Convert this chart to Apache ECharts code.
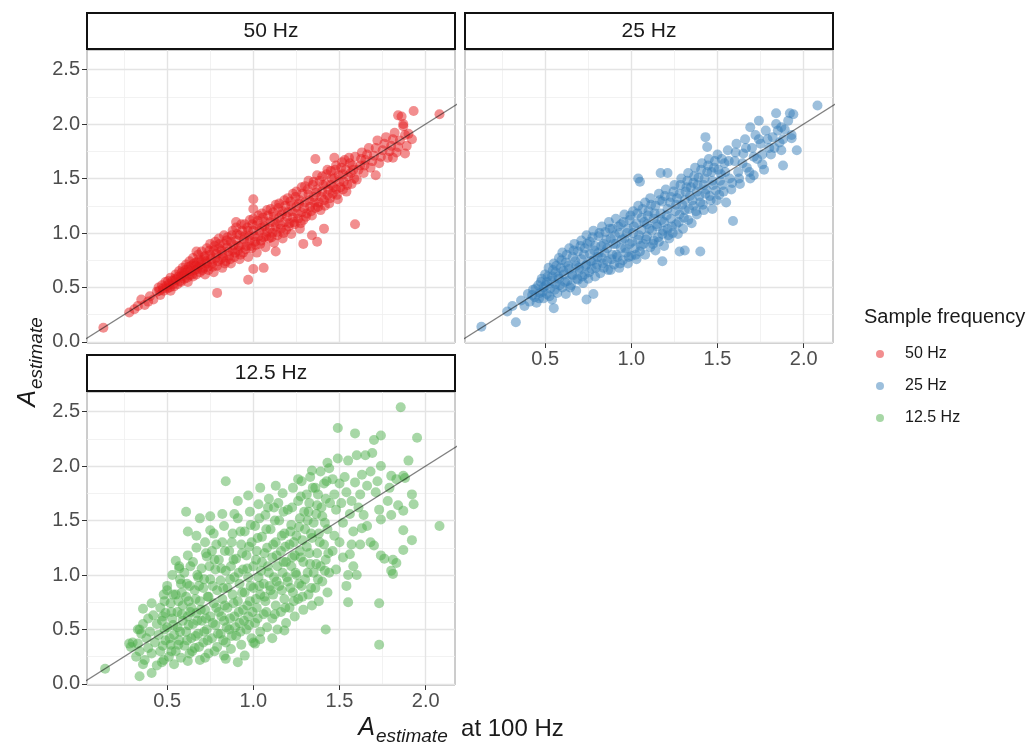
<!DOCTYPE html>
<html><head><meta charset="utf-8">
<script src="https://cdn.jsdelivr.net/npm/echarts@6/dist/echarts.min.js"></script>
<style>html,body{margin:0;padding:0;background:#fff}#c{width:1032px;height:747px}</style>
</head><body><div id="c"></div>
<script>
const panels = ['50 Hz', '25 Hz', '12.5 Hz'];
const colors = ['rgba(228,26,28,0.62)', 'rgba(55,126,184,0.62)', 'rgba(77,175,74,0.62)'];
const xTicks = [0.5, 1.0, 1.5, 2.0];
const yTicks = [0.0, 0.5, 1.0, 1.5, 2.0, 2.5];
const xMinor = [0.25, 0.75, 1.25, 1.75];
const yMinor = [0.25, 0.75, 1.25, 1.75, 2.25];
const identity = [[0, 0], [2.3, 2.3]];

const pts50 = [
[0.13,0.13],[0.28,0.27],[0.31,0.30],[0.33,0.33],[0.35,0.39],[0.37,0.34],[0.39,0.37],[0.40,0.42],[0.42,0.39],
[0.44,0.46],[0.45,0.50],[0.46,0.43],[0.47,0.52],[0.48,0.47],
[0.49,0.55],[0.50,0.49],[0.51,0.53],[0.52,0.59],[0.52,0.47],[0.53,0.56],
[0.54,0.51],[0.55,0.62],[0.55,0.57],[0.56,0.53],[0.57,0.65],[0.58,0.60],[0.58,0.55],
[0.59,0.68],[0.60,0.58],[0.60,0.63],[0.61,0.71],[0.62,0.55],[0.62,0.66],[0.63,0.61],[0.63,0.74],
[0.64,0.70],[0.65,0.60],[0.65,0.77],[0.66,0.66],[0.67,0.73],[0.67,0.62],[0.68,0.69],[0.68,0.80],
[0.69,0.64],[0.70,0.75],[0.70,0.83],[0.71,0.68],[0.72,0.79],[0.72,0.62],[0.73,0.72],[0.73,0.86],
[0.74,0.66],[0.75,0.80],[0.75,0.90],[0.76,0.72],[0.77,0.84],[0.77,0.64],[0.78,0.77],[0.78,0.92],
[0.79,0.70],[0.80,0.86],[0.80,0.95],[0.81,0.76],[0.82,0.81],[0.82,0.68],[0.83,0.90],[0.83,0.98],
[0.84,0.74],[0.85,0.87],[0.85,0.96],[0.86,0.79],[0.87,0.92],[0.87,0.72],[0.88,0.84],[0.88,1.02],
[0.89,0.78],[0.90,0.93],[0.90,1.05],[0.91,0.84],[0.92,0.98],[0.92,0.76],[0.93,0.89],[0.93,1.08],
[0.94,0.82],[0.95,0.97],[0.95,1.08],[0.96,0.88],[0.97,1.02],[0.97,0.78],[0.98,0.93],[0.98,1.12],
[0.99,0.86],[1.00,1.02],[1.00,1.13],[1.01,0.92],[1.02,1.07],[1.02,0.82],[1.03,0.97],[1.03,1.16],
[1.04,0.90],[1.05,1.05],[1.05,1.18],[1.06,0.96],[1.07,1.10],[1.07,0.87],[1.08,1.01],[1.08,1.21],
[1.09,0.95],[1.10,1.10],[1.10,1.22],[1.11,1.00],[1.12,1.15],[1.12,0.91],[1.13,1.06],[1.13,1.26],
[1.14,0.98],[1.15,1.14],[1.15,1.27],[1.16,1.04],[1.17,1.20],[1.17,0.95],[1.18,1.10],[1.18,1.30],
[1.19,1.03],[1.20,1.19],[1.20,1.32],[1.21,1.09],[1.22,1.25],[1.22,0.99],[1.23,1.14],[1.23,1.36],
[1.24,1.08],[1.25,1.24],[1.25,1.38],[1.26,1.13],[1.27,1.30],[1.27,1.04],[1.28,1.19],[1.28,1.42],
[1.29,1.12],[1.30,1.28],[1.30,1.43],[1.31,1.18],[1.32,1.35],[1.32,1.48],[1.33,1.24],
[1.34,1.16],[1.35,1.33],[1.35,1.47],[1.36,1.23],[1.37,1.40],[1.37,1.53],[1.38,1.28],
[1.39,1.21],[1.40,1.38],[1.40,1.52],[1.41,1.30],[1.42,1.45],[1.43,1.35],[1.43,1.58],
[1.44,1.27],[1.45,1.44],[1.45,1.57],[1.46,1.36],[1.47,1.50],[1.48,1.40],[1.48,1.62],
[1.49,1.31],[1.50,1.47],[1.51,1.60],[1.52,1.40],[1.52,1.54],[1.53,1.67],
[1.54,1.38],[1.55,1.52],[1.56,1.64],[1.57,1.45],[1.58,1.58],
[1.59,1.70],[1.60,1.49],[1.62,1.62],[1.63,1.74],[1.64,1.55],[1.65,1.67],
[1.67,1.78],[1.68,1.60],[1.70,1.71],[1.72,1.85],[1.73,1.64],[1.75,1.76],
[1.77,1.88],[1.78,1.69],[1.80,1.80],[1.82,1.92],[1.83,1.74],[1.85,1.85],
[1.87,1.98],[1.89,1.80],[1.90,1.91],[1.92,1.86],
[0.67,0.83],[0.79,0.45],[0.97,0.57],[1.00,0.67],[1.06,0.68],[1.13,0.83],[0.90,1.10],[1.00,1.31],[1.00,1.22],
[1.29,0.90],[1.34,0.98],[1.37,0.92],[1.41,1.04],[1.59,1.08],[1.36,1.68],[1.47,1.69],[1.81,1.69],[1.88,1.73],
[1.71,1.53],[1.84,2.08],[1.86,2.07],[1.87,2.00],[1.93,2.12],[2.08,2.09],
[0.455,0.47],[0.475,0.49],[0.495,0.51],[0.505,0.56],[0.515,0.50],[0.535,0.53],[0.545,0.58],[0.565,0.60],[0.575,0.56],
[0.585,0.64],[0.595,0.61],[0.605,0.66],[0.615,0.59],[0.625,0.69],[0.635,0.65],[0.645,0.62],[0.655,0.72],[0.665,0.70],
[0.675,0.67],[0.685,0.75],[0.695,0.71],[0.705,0.66],[0.715,0.78],[0.725,0.74],[0.735,0.69],[0.745,0.84],[0.755,0.76],
[0.765,0.69],[0.775,0.88],[0.785,0.81],[0.795,0.74],[0.805,0.90],[0.815,0.84],[0.825,0.77],[0.835,0.72],[0.845,0.93],
[0.855,0.83],[0.865,0.76],[0.875,0.98],[0.885,0.89],[0.895,0.82],[0.905,0.99],[0.915,0.88],[0.925,0.80],[0.935,1.02],
[0.945,0.94],[0.955,0.85],[0.965,1.05],[0.975,0.97],[0.985,0.88],[0.995,1.08],[1.005,0.97],[1.015,0.89],[1.025,1.11],
[1.035,1.02],[1.045,0.93],[1.055,1.14],[1.065,1.06],[1.075,0.97],[1.085,1.16],[1.095,1.04],[1.105,0.96],[1.115,1.19],
[1.125,1.10],[1.135,1.01],[1.145,1.23],[1.155,1.08],[1.165,1.17],[1.175,1.00],[1.185,1.25],[1.195,1.15],[1.205,1.06],
[1.215,1.29],[1.225,1.20],[1.235,1.10],[1.245,1.33],[1.255,1.18],[1.265,1.27],[1.275,1.09],[1.285,1.36],[1.295,1.23],
[1.305,1.15],[1.315,1.40],[1.325,1.30],[1.335,1.20],[1.345,1.44],[1.355,1.28],[1.365,1.37],[1.375,1.24],[1.385,1.48],
[1.395,1.33],[1.405,1.44],[1.415,1.25],[1.425,1.54],[1.435,1.40],[1.445,1.32],[1.455,1.50],[1.465,1.42],[1.475,1.58],
[1.485,1.35],[1.495,1.53],[1.505,1.42],[1.515,1.65],[1.525,1.47],[1.535,1.58],[1.545,1.44],[1.555,1.69],[1.565,1.55],
[1.575,1.62],[1.585,1.50],[1.61,1.58],[1.625,1.68],[1.645,1.62],[1.66,1.72],[1.69,1.66],[1.71,1.78],[1.74,1.70],
[1.76,1.82],[1.79,1.75],[1.81,1.86],[1.84,1.79],[1.88,1.90]
];

const pts25 = [
[0.13,0.14],[0.28,0.28],[0.31,0.33],[0.33,0.18],[0.55,0.31],[0.74,0.39],[0.78,0.44],
[0.36,0.38],[0.38,0.33],[0.40,0.44],[0.41,0.37],[0.43,0.48],[0.44,0.41],
[0.45,0.36],[0.46,0.52],[0.47,0.45],[0.48,0.58],[0.49,0.40],[0.49,0.50],
[0.50,0.62],[0.51,0.44],[0.51,0.55],[0.52,0.68],[0.53,0.49],[0.54,0.60],[0.54,0.39],
[0.55,0.72],[0.56,0.53],[0.56,0.64],[0.57,0.45],[0.58,0.77],[0.58,0.58],[0.59,0.68],
[0.60,0.50],[0.60,0.82],[0.61,0.62],[0.62,0.73],[0.62,0.44],[0.63,0.56],[0.64,0.86],[0.64,0.67],
[0.65,0.52],[0.66,0.78],[0.66,0.61],[0.67,0.90],[0.68,0.70],[0.68,0.47],[0.69,0.83],[0.69,0.57],
[0.70,0.66],[0.71,0.93],[0.71,0.76],[0.72,0.54],[0.73,0.86],[0.73,0.62],[0.74,0.98],[0.74,0.71],
[0.75,0.58],[0.76,0.81],[0.76,0.92],[0.77,0.67],[0.78,1.02],[0.78,0.75],[0.79,0.60],[0.79,0.88],
[0.80,0.71],[0.81,0.97],[0.81,0.82],[0.82,0.63],[0.83,1.06],[0.83,0.77],[0.84,0.90],[0.84,0.68],
[0.85,1.01],[0.86,0.74],[0.86,0.86],[0.87,1.10],[0.88,0.66],[0.88,0.95],[0.89,0.80],[0.89,1.04],
[0.90,0.71],[0.91,0.90],[0.91,1.13],[0.92,0.78],[0.93,1.00],[0.93,0.68],[0.94,1.08],[0.94,0.86],
[0.95,0.75],[0.96,1.17],[0.96,0.95],[0.97,0.82],[0.98,1.04],[0.98,0.72],[0.99,1.12],[0.99,0.90],
[1.00,0.79],[1.01,1.20],[1.01,1.00],[1.02,0.86],[1.03,1.09],[1.03,0.76],[1.04,1.25],[1.04,0.94],
[1.05,0.83],[1.06,1.14],[1.06,1.03],[1.07,0.90],[1.08,1.28],[1.08,0.80],[1.09,1.08],[1.09,0.97],
[1.10,1.20],[1.11,0.87],[1.11,1.32],[1.12,1.02],[1.13,0.93],[1.13,1.13],[1.14,0.84],[1.14,1.25],
[1.15,1.06],[1.16,1.36],[1.16,0.92],[1.17,1.18],[1.18,0.99],[1.18,1.29],[1.19,1.10],[1.19,0.88],
[1.20,1.40],[1.21,1.04],[1.21,1.22],[1.22,0.95],[1.23,1.33],[1.23,1.13],[1.24,1.00],
[1.25,1.44],[1.26,1.26],[1.26,1.08],[1.27,0.99],[1.28,1.36],[1.28,1.17],[1.29,1.50],
[1.30,1.04],[1.31,1.30],[1.31,1.21],[1.32,1.42],[1.33,1.12],[1.33,1.55],[1.34,1.34],
[1.35,1.09],[1.36,1.46],[1.36,1.25],[1.37,1.60],[1.38,1.17],[1.38,1.38],[1.39,1.51],
[1.40,1.28],[1.41,1.64],[1.42,1.21],[1.42,1.44],[1.43,1.36],[1.44,1.56],
[1.45,1.68],[1.46,1.30],[1.47,1.48],[1.47,1.22],[1.48,1.60],[1.49,1.39],
[1.50,1.72],[1.51,1.35],[1.52,1.54],[1.53,1.44],[1.54,1.64],[1.55,1.28],
[1.56,1.76],[1.57,1.50],[1.58,1.40],[1.60,1.66],[1.61,1.82],[1.62,1.56],
[1.63,1.45],[1.65,1.73],[1.66,1.86],[1.67,1.60],[1.69,1.50],[1.70,1.78],
[1.72,1.90],[1.73,1.68],[1.75,1.82],[1.77,1.58],[1.78,1.94],[1.80,1.78],
[1.82,1.88],[1.84,2.00],[1.86,1.83],[1.89,1.95],[1.91,2.03],[1.93,1.90],
[1.05,1.47],[1.04,1.50],[1.17,1.55],[1.21,1.55],[1.18,0.74],[1.28,0.83],[1.31,0.84],[1.40,0.83],[1.59,1.11],
[1.43,1.88],[1.44,1.79],[2.08,2.17],[1.94,2.09],[1.92,2.10],[1.84,2.10],[1.88,1.62],[1.96,1.76],[1.87,1.76],
[1.81,1.72],[1.71,1.53],[1.76,1.63],[1.69,1.97],[1.74,2.03],[1.87,1.97],[1.93,1.87],
[0.425,0.43],[0.445,0.49],[0.465,0.40],[0.475,0.55],[0.485,0.46],[0.505,0.52],[0.515,0.60],[0.525,0.42],[0.535,0.56],
[0.545,0.66],[0.555,0.48],[0.565,0.70],[0.575,0.60],[0.585,0.52],[0.595,0.75],[0.605,0.65],[0.615,0.55],[0.625,0.80],
[0.635,0.70],[0.645,0.50],[0.655,0.62],[0.665,0.84],[0.675,0.74],[0.685,0.58],[0.695,0.68],[0.705,0.88],[0.715,0.60],
[0.725,0.80],[0.735,0.70],[0.745,0.90],[0.755,0.64],[0.765,0.74],[0.775,0.96],[0.785,0.84],[0.795,0.68],[0.805,0.78],
[0.815,1.00],[0.825,0.88],[0.835,0.72],[0.845,0.82],[0.855,0.94],[0.865,0.66],[0.875,1.04],[0.885,0.76],[0.895,0.90],
[0.905,0.98],[0.915,0.80],[0.925,1.06],[0.935,0.72],[0.945,0.94],[0.955,1.10],[0.965,0.86],[0.975,1.00],[0.985,0.78],
[0.995,1.16],[1.005,0.92],[1.015,1.06],[1.025,0.80],[1.035,1.18],[1.045,0.98],[1.055,0.88],[1.065,1.22],[1.075,1.10],
[1.085,0.94],[1.095,1.16],[1.105,1.04],[1.115,1.26],[1.125,0.90],[1.135,1.18],[1.145,1.08],[1.155,0.96],[1.165,1.30],
[1.175,1.12],[1.185,1.02],[1.195,1.34],[1.205,1.16],[1.215,0.98],[1.225,1.28],[1.235,1.06],[1.245,1.38],[1.255,1.20],
[1.265,1.32],[1.275,1.10],[1.285,1.44],[1.295,1.26],[1.305,1.14],[1.315,1.38],[1.325,1.48],[1.335,1.22],[1.345,1.42],
[1.355,1.30],[1.365,1.52],[1.375,1.20],[1.385,1.44],[1.395,1.34],[1.405,1.58],[1.415,1.26],[1.425,1.50],[1.435,1.40],
[1.445,1.62],[1.455,1.34],[1.465,1.56],[1.475,1.44],[1.485,1.66],[1.495,1.30],[1.505,1.58],[1.515,1.48],[1.525,1.68],
[1.535,1.38],[1.545,1.56],[1.565,1.66],[1.585,1.46],[1.605,1.74],[1.625,1.50],[1.645,1.64],[1.665,1.78],[1.685,1.56],
[1.71,1.70],[1.74,1.86],[1.76,1.72],[1.79,1.86],[1.83,1.78],[1.85,1.94],[1.88,1.86]
];

const pts125 = [
[0.14,0.14],[0.28,0.37],[0.29,0.34],[0.33,0.37],[0.34,0.50],[0.34,0.07],[0.36,0.18],[0.41,0.10],[0.35,0.46],
[0.36,0.69],[0.41,0.74],[0.47,0.20],
[0.30,0.38],[0.32,0.25],[0.33,0.50],[0.34,0.30],
[0.36,0.55],[0.37,0.22],[0.38,0.42],[0.39,0.60],[0.39,0.33],
[0.40,0.48],[0.41,0.28],[0.42,0.63],[0.43,0.38],[0.44,0.55],[0.44,0.17],
[0.45,0.45],[0.46,0.70],[0.46,0.30],[0.47,0.58],[0.48,0.22],[0.48,0.82],[0.49,0.40],[0.49,0.65],
[0.50,0.52],[0.50,0.90],[0.51,0.25],[0.52,0.74],[0.52,0.36],[0.53,0.60],[0.53,1.00],[0.54,0.45],[0.54,0.18],
[0.55,0.82],[0.55,0.30],[0.56,0.66],[0.56,0.52],[0.57,1.08],[0.57,0.40],[0.58,0.92],[0.58,0.24],[0.59,0.72],[0.59,0.58],
[0.60,0.35],[0.60,1.02],[0.61,0.48],[0.61,0.80],[0.62,0.62],[0.62,1.18],[0.63,0.28],[0.63,0.90],[0.64,0.42],[0.64,0.70],
[0.65,1.12],[0.65,0.55],[0.66,0.33],[0.66,0.86],[0.67,0.65],[0.67,1.25],[0.68,0.46],[0.68,0.98],[0.69,0.22],[0.69,0.76],
[0.70,0.58],[0.70,1.06],[0.71,0.38],[0.71,0.88],[0.72,1.30],[0.72,0.68],[0.73,0.50],[0.73,1.17],[0.74,0.28],[0.74,0.80],
[0.75,0.96],[0.75,0.62],[0.76,0.42],[0.76,1.22],[0.77,0.74],[0.77,1.38],[0.78,0.54],[0.78,1.05],[0.79,0.34],[0.79,0.86],
[0.80,0.66],[0.80,1.14],[0.81,0.46],[0.81,0.95],[0.82,1.30],[0.82,0.78],[0.83,0.58],[0.83,1.45],[0.84,0.38],[0.84,1.04],
[0.85,0.88],[0.85,0.70],[0.86,1.22],[0.86,0.50],[0.87,1.08],[0.87,0.32],[0.88,0.82],[0.88,1.38],[0.89,0.62],[0.89,0.98],
[0.90,1.15],[0.90,0.44],[0.91,0.76],[0.91,1.52],[0.92,0.92],[0.92,0.56],[0.93,1.28],[0.93,0.36],[0.94,1.05],[0.94,0.68],
[0.95,0.84],[0.95,1.40],[0.96,0.50],[0.96,1.18],[0.97,0.98],[0.97,0.62],[0.98,1.58],[0.98,0.76],[0.99,1.30],[0.99,0.42],
[1.00,1.08],[1.00,0.88],[1.01,0.56],[1.01,1.45],[1.02,0.70],[1.02,1.22],[1.03,0.98],[1.03,1.65],[1.04,0.48],[1.04,0.82],
[1.05,1.35],[1.05,1.12],[1.06,0.64],[1.06,0.92],[1.07,1.55],[1.07,0.76],[1.08,1.25],[1.08,0.52],[1.09,1.02],[1.09,1.70],
[1.10,0.86],[1.10,1.42],[1.11,0.60],[1.11,1.16],[1.12,0.98],[1.12,1.62],[1.13,0.72],[1.13,1.30],[1.14,0.50],[1.14,1.08],
[1.15,1.50],[1.15,0.90],[1.16,1.22],[1.16,0.66],[1.17,1.75],[1.17,1.02],[1.18,0.78],[1.18,1.38],[1.19,1.12],[1.19,0.56],
[1.20,1.60],[1.20,0.94],[1.21,1.28],[1.21,0.70],[1.22,1.46],[1.22,1.08],[1.23,0.84],[1.23,1.80],[1.24,1.18],[1.24,0.62],
[1.25,1.36],[1.25,1.00],[1.26,1.68],[1.26,0.78],[1.27,1.22],[1.27,1.52],[1.28,0.90],[1.28,1.86],[1.29,1.12],[1.29,0.68],
[1.30,1.42],[1.30,0.96],[1.31,1.74],[1.31,1.26],[1.32,0.82],[1.32,1.58],[1.33,1.10],[1.33,1.90],[1.34,0.72],[1.34,1.34],
[1.35,1.48],[1.35,1.02],[1.36,1.80],[1.36,0.88],[1.37,1.20],[1.37,1.64],[1.38,1.38],[1.38,0.76],[1.39,1.95],[1.39,1.08],
[1.40,1.54],[1.40,0.94],[1.41,1.28],[1.41,1.84],[1.42,1.14],[1.42,1.70],[1.43,0.84],[1.43,1.42],[1.44,1.98],[1.44,1.02],
[0.61,1.58],[0.69,1.52],[0.62,1.40],[0.84,1.86],[0.75,1.54],[0.82,1.56],[0.89,1.56],[0.91,1.68],[0.97,1.73],
[0.67,1.36],[0.75,1.41],[0.55,1.13],[0.57,1.06],[0.50,0.86],[1.04,1.80],[1.13,1.82],[1.26,1.88],[1.34,1.96],[1.43,2.03],
[0.62,0.21],[0.72,0.24],[0.83,0.26],[0.84,0.23],[0.91,0.20],[0.95,0.26],[1.00,0.38],[1.01,0.37],[1.04,0.41],[1.11,0.42],[1.18,0.49],
[1.49,2.35],[1.59,2.30],[1.70,2.24],[1.74,2.28],[1.855,2.54],[1.95,2.26],[1.90,2.05],[2.08,1.45],[1.60,2.10],
[1.65,2.10],[1.69,2.12],[1.55,2.05],[1.49,2.07],[1.74,2.00],[1.80,1.91],[1.87,1.91],[1.92,1.74],[1.93,1.65],
[1.84,1.64],[1.87,1.59],[1.73,1.60],[1.78,1.68],[1.71,1.76],[1.64,1.55],[1.74,1.51],[1.80,1.55],[1.87,1.41],
[1.92,1.32],[1.87,1.23],[1.81,1.14],[1.80,1.04],[1.74,1.18],[1.62,1.28],[1.68,1.30],[1.56,1.19],[1.58,1.08],
[1.55,1.00],[1.60,1.00],[1.48,1.05],[1.66,1.45],[1.63,1.43],[1.57,1.28],
[1.73,0.74],[1.73,0.36],[1.55,0.75],[1.42,0.50],[1.81,1.01],[1.83,1.11],[1.70,1.27],[1.76,1.15],[1.88,1.89],[1.83,1.88],
[1.46,1.88],[1.47,1.36],[1.47,1.74],[1.46,1.22],[1.48,1.60],[1.50,1.30],[1.50,1.84],[1.51,1.66],[1.52,1.16],
[1.52,1.48],[1.53,1.90],[1.54,1.76],[1.54,0.90],[1.56,1.56],[1.57,1.68],[1.58,1.40],[1.59,1.85],[1.61,1.62],
[1.62,1.74],[1.63,1.92],[1.66,1.82],[1.68,1.95],[1.72,1.86],[1.79,1.80],
[0.475,0.35],[0.475,0.62],[0.485,0.50],[0.485,0.76],
[0.515,0.42],[0.525,0.66],[0.525,0.30],[0.535,0.82],[0.535,0.54],
[0.565,0.36],[0.565,0.76],[0.575,0.48],[0.575,0.96],[0.585,0.64],[0.585,0.84],
[0.615,0.40],[0.615,0.92],[0.625,0.54],[0.625,0.76],[0.635,1.08],[0.635,0.66],[0.645,0.30],
[0.665,0.44],[0.665,0.78],[0.675,1.00],[0.675,0.58],[0.685,0.90],[0.685,0.34],[0.695,0.68],
[0.715,0.48],[0.715,0.96],[0.725,0.60],[0.725,1.20],[0.735,0.80],[0.735,0.40],[0.745,1.08],
[0.765,0.56],[0.765,0.90],[0.775,0.30],[0.775,1.14],[0.785,0.70],[0.785,1.28],[0.795,0.46],
[0.815,0.62],[0.815,1.06],[0.825,0.88],[0.825,0.40],[0.835,1.22],[0.835,0.72],[0.845,0.52],
[0.865,0.96],[0.865,0.60],[0.875,1.30],[0.875,0.44],[0.885,0.74],[0.885,1.14],[0.895,0.52],
[0.915,1.02],[0.915,0.66],[0.925,1.40],[0.925,0.48],[0.935,0.84],[0.935,1.20],[0.945,0.58],
[0.965,1.06],[0.965,0.72],[0.975,1.26],[0.975,0.54],[0.985,0.90],[0.985,1.46],[0.995,0.66],
[1.015,1.14],[1.015,0.78],[1.025,1.34],[1.025,0.60],[1.035,0.90],[1.035,1.52],[1.045,1.04],
[1.065,1.20],[1.065,0.80],[1.075,1.42],[1.075,0.66],[1.085,1.08],[1.085,1.62],[1.095,0.90],
[1.115,1.28],[1.115,0.82],[1.125,1.50],[1.125,0.64],[1.135,1.18],[1.135,0.94],[1.145,1.66],
[1.165,1.36],[1.165,0.86],[1.175,1.12],[1.175,1.58],[1.185,0.70],[1.185,1.26],[1.195,0.98],
[1.215,1.40],[1.215,0.88],[1.225,1.62],[1.225,1.16],[1.235,0.76],[1.235,1.30],[1.245,1.02],
[1.265,1.44],[1.265,0.92],[1.275,1.72],[1.275,1.16],[1.285,0.80],[1.285,1.32],[1.295,1.58],
[1.315,1.50],[1.315,1.02],[1.325,1.66],[1.325,1.20],[1.335,0.88],[1.335,1.38],[1.345,1.80],
[1.365,1.56],[1.365,1.10],[1.375,1.74],[1.375,0.96],[1.385,1.30],[1.395,1.62],
[1.415,1.48],[1.415,1.04],[1.425,1.86],[1.435,1.20],[1.445,1.66]
];

const seriesData = [pts50, pts25, pts125];

const FONT = '"Liberation Sans", Arial, sans-serif';
const X_RANGE = [0.035, 2.17];
const Y_RANGE = [-0.01, 2.68];
const gridBoxes = [
  {left: 87, top: 50, width: 368, height: 293},
  {left: 465, top: 50, width: 368, height: 293},
  {left: 87, top: 392, width: 368, height: 293}
];
const showX = [false, true, true];
const showY = [true, false, true];

const fmt = v => Number(v).toFixed(1);
const majorStyle = {color: '#e4e4e4', width: 1.4, type: 'solid'};
const minorStyle = {color: '#efefef', width: 0.8, type: 'solid'};

const grids = gridBoxes.map(g => Object.assign({show: true, borderColor: '#9a9a9a', borderWidth: 1, backgroundColor: '#ffffff', containLabel: false}, g));

const xAxes = gridBoxes.map((g, i) => ({
  type: 'value', gridIndex: i, min: X_RANGE[0], max: X_RANGE[1],
  splitLine: {show: false},
  axisLine: {show: false, onZero: false},
  axisTick: {show: showX[i], length: 5, customValues: xTicks, lineStyle: {color: '#333'}},
  axisLabel: {show: showX[i], customValues: xTicks, formatter: fmt, fontSize: 20, color: '#4d4d4d', margin: 6, fontFamily: FONT}
}));
const yAxes = gridBoxes.map((g, i) => ({
  type: 'value', gridIndex: i, min: Y_RANGE[0], max: Y_RANGE[1],
  splitLine: {show: false},
  axisLine: {show: false, onZero: false},
  axisTick: {show: showY[i], length: 5, customValues: yTicks, lineStyle: {color: '#333'}},
  axisLabel: {show: showY[i], customValues: yTicks, formatter: fmt, fontSize: 20, color: '#4d4d4d', margin: 7, fontFamily: FONT}
}));

const series = [];
gridBoxes.forEach((g, i) => {
  const lines = [];
  xMinor.forEach(v => lines.push({xAxis: v, lineStyle: minorStyle}));
  yMinor.forEach(v => lines.push({yAxis: v, lineStyle: minorStyle}));
  xTicks.forEach(v => lines.push({xAxis: v, lineStyle: majorStyle}));
  yTicks.forEach(v => lines.push({yAxis: v, lineStyle: majorStyle}));
  series.push({
    type: 'line', xAxisIndex: i, yAxisIndex: i, data: identity, z: 1, zlevel: 0, silent: true,
    symbol: 'none', lineStyle: {opacity: 0}, legendHoverLink: false,
    markLine: {z: 1, zlevel: 0, silent: true, symbol: 'none', animation: false, label: {show: false}, data: lines}
  });
  series.push({
    name: panels[i], type: 'scatter', xAxisIndex: i, yAxisIndex: i, data: seriesData[i],
    symbolSize: 10, z: 3, zlevel: 1, itemStyle: {color: colors[i]}
  });
  series.push({
    type: 'line', xAxisIndex: i, yAxisIndex: i, data: identity, z: 4, zlevel: 1, silent: true,
    symbol: 'none', clip: true, lineStyle: {color: 'rgba(0,0,0,0.5)', width: 1.4}
  });
});

const graphics = [];
gridBoxes.forEach((g, i) => {
  graphics.push({type: 'rect', z: 10, shape: {x: g.left, y: g.top - 37, width: g.width, height: 36},
    style: {fill: '#ffffff', stroke: '#111', lineWidth: 2}});
  graphics.push({type: 'text', z: 11, x: g.left + g.width / 2, y: g.top - 19,
    style: {text: panels[i], align: 'center', verticalAlign: 'middle', fill: '#1a1a1a', font: '21px ' + FONT}});
});
graphics.push({type: 'text', z: 11, x: 30, y: 362, rotation: Math.PI / 2,
  style: {text: '{a|A}{b|estimate}', align: 'center', verticalAlign: 'middle',
    rich: {a: {fontSize: 25, fontStyle: 'italic', fontFamily: FONT, fill: '#1a1a1a', lineHeight: 28, verticalAlign: 'top'},
           b: {fontSize: 19, fontStyle: 'italic', fontFamily: FONT, fill: '#1a1a1a', lineHeight: 20, padding: [11, 0, 0, 1], verticalAlign: 'top'}}}});
graphics.push({type: 'text', z: 11, x: 461, y: 730,
  style: {text: '{a|A}{b|estimate}{c|  at 100 Hz}', align: 'center', verticalAlign: 'middle',
    rich: {a: {fontSize: 25, fontStyle: 'italic', fontFamily: FONT, fill: '#1a1a1a', lineHeight: 28, verticalAlign: 'top'},
           b: {fontSize: 19, fontStyle: 'italic', fontFamily: FONT, fill: '#1a1a1a', lineHeight: 20, padding: [11, 0, 0, 1], verticalAlign: 'top'},
           c: {fontSize: 24, fontFamily: FONT, fill: '#1a1a1a', lineHeight: 28, verticalAlign: 'top', padding: [1, 0, 0, 0]}}}});

const chart = echarts.init(document.getElementById('c'), null, {renderer: 'canvas'});
chart.setOption({
  animation: false,
  backgroundColor: '#ffffff',
  title: {text: 'Sample frequency', left: 864, top: 307, padding: 0,
    textStyle: {fontSize: 20, fontWeight: 'normal', color: '#1a1a1a', fontFamily: FONT}},
  legend: {data: panels, orient: 'vertical', left: 876, top: 345, padding: 0,
    icon: 'circle', itemWidth: 8, itemHeight: 8, itemGap: 14,
    textStyle: {fontSize: 16, color: '#1a1a1a', fontFamily: FONT, lineHeight: 18, padding: [0, 0, 0, 16]}},
  grid: grids,
  xAxis: xAxes,
  yAxis: yAxes,
  series: series,
  graphic: graphics
});
</script>
</body></html>
